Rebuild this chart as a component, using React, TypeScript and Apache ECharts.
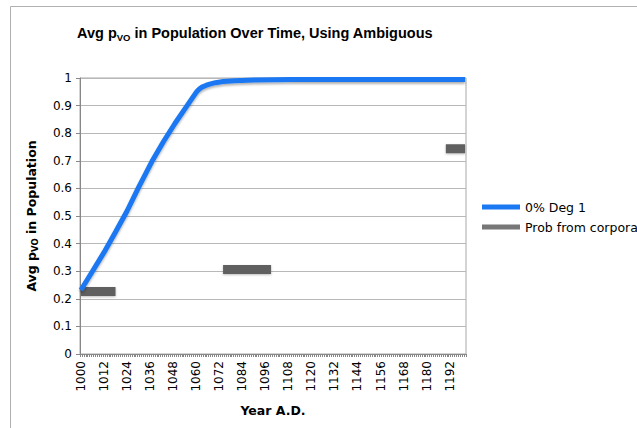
import React, { useEffect, useRef } from "react";
import * as echarts from "echarts";

const years: string[] = [];
for (let y = 1000; y <= 1200; y++) years.push(String(y));

// [category index (year - 1000), value]
const degLine: [number, number][] = [
  [0, 0.232], [6, 0.3], [12, 0.368], [18, 0.442], [24, 0.518], [30, 0.604],
  [37, 0.698], [43, 0.77], [49, 0.836], [55, 0.897], [60, 0.948], [61, 0.956],
  [62, 0.962], [63, 0.967], [65, 0.973], [67, 0.978], [70, 0.983], [74, 0.987],
  [80, 0.99], [90, 0.993], [110, 0.995], [200, 0.995],
];

const corporaLine: [number, number | string][] = [
  [0, 0.226], [18, 0.226], [19, "-"],
  [74, 0.306], [99, 0.306], [100, "-"],
  [190, 0.744], [200, 0.744],
];

const yTicks = { min: 0, max: 1, interval: 0.1 };
const FONT = "DejaVu Sans";
const TITLE_FONT = "Liberation Sans";

export default function App() {
  const ref = useRef<HTMLDivElement>(null);
  useEffect(() => {
    if (!ref.current) return;
    const chart = echarts.init(ref.current, undefined, { renderer: "svg" });
    chart.setOption({
      animation: false,
      backgroundColor: "#ffffff",
      textStyle: { fontFamily: FONT },
      title: {
        left: 77,
        top: 23,
        padding: 0,
        text: "{a|Avg p}{s|VO}{a| in Population Over Time, Using Ambiguous}",
        textStyle: {
          rich: {
            a: { fontFamily: TITLE_FONT, fontSize: 14.5, fontWeight: "bold", color: "#000", lineHeight: 20 },
            s: { fontFamily: TITLE_FONT, fontSize: 9.5, fontWeight: "bold", color: "#000", lineHeight: 20, padding: [8, 0, 0, 0] },
          },
        },
      },
      graphic: [
        {
          type: "rect",
          shape: { x: 10.5, y: 6.5, width: 700, height: 500 },
          style: { fill: "none", stroke: "#b0b0b0", lineWidth: 1 },
          silent: true,
        },
      ],
      legend: {
        orient: "vertical",
        left: 477,
        top: 195,
        itemWidth: 38,
        itemHeight: 5,
        itemGap: 6,
        icon: "rect",
        textStyle: { fontFamily: FONT, fontSize: 12.5, color: "#000", lineHeight: 14 },
        data: ["0% Deg 1", "Prob from corpora"],
      },
      grid: { left: 80, right: 171, top: 78, bottom: 74, show: true, borderColor: "#a8a8a8", borderWidth: 1 },
      xAxis: {
        type: "category",
        data: years,
        boundaryGap: true,
        name: "Year A.D.",
        nameLocation: "middle",
        nameGap: 50,
        nameTextStyle: { fontFamily: FONT, fontSize: 12.5, fontWeight: "bold", color: "#000" },
        axisLine: { lineStyle: { color: "#888", width: 1 } },
        axisTick: { show: true, interval: 0, length: 3, lineStyle: { color: "#888" } },
        axisLabel: { interval: 11, rotate: 90, margin: 7, fontFamily: FONT, fontSize: 12, color: "#000" },
        splitLine: { show: false },
      },
      yAxis: {
        type: "value",
        min: yTicks.min,
        max: yTicks.max,
        interval: yTicks.interval,
        name: "{a|Avg p}{s|VO}{a| in Population}",
        nameLocation: "middle",
        nameGap: 40,
        nameRotate: 90,
        nameTextStyle: {
          rich: {
            a: { fontFamily: FONT, fontSize: 12.5, fontWeight: "bold", color: "#000", lineHeight: 18 },
            s: { fontFamily: FONT, fontSize: 8.5, fontWeight: "bold", color: "#000", lineHeight: 18, padding: [7, 0, 0, 0] },
          },
        },
        axisLine: { show: true, lineStyle: { color: "#888", width: 1 } },
        axisTick: { show: true, length: 4, lineStyle: { color: "#888" } },
        axisLabel: { margin: 8, fontFamily: FONT, fontSize: 12, color: "#000" },
        splitLine: { show: true, lineStyle: { color: "#b8b8b8", width: 1 } },
      },
      series: [
        {
          name: "0% Deg 1",
          type: "line",
          data: degLine,
          showSymbol: false,
          symbol: "none",
          z: 4,
          color: "#1a78f2",
          lineStyle: {
            color: "#1a78f2",
            width: 5,
            shadowColor: "rgba(0,0,0,0.3)",
            shadowBlur: 2,
            shadowOffsetY: 2,
          },
        },
        {
          name: "Prob from corpora",
          type: "line",
          data: corporaLine,
          connectNulls: false,
          showSymbol: false,
          symbol: "none",
          z: 3,
          color: "#777777",
          lineStyle: {
            color: "#606060",
            width: 9,
            cap: "butt",
            shadowColor: "rgba(0,0,0,0.25)",
            shadowBlur: 2,
            shadowOffsetY: 1,
          },
        },
      ],
    });
    return () => chart.dispose();
  }, []);
  return (
    <div
      ref={ref}
      style={{ position: "fixed", left: 0, top: 0, width: 637, height: 428 }}
    />
  );
}
